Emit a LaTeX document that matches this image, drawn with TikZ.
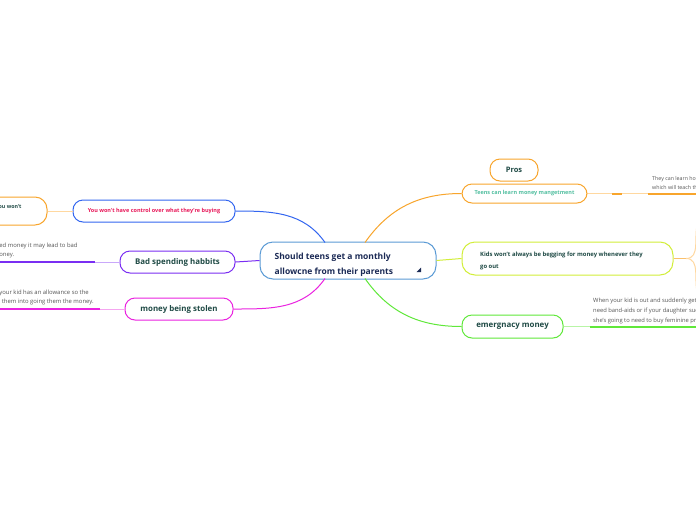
\documentclass[tikz,border=0pt]{standalone}
\usepackage{fontspec}
\setmainfont{Open Sans}
\definecolor{cborder}{HTML}{5B9BD5}
\definecolor{cnavy}{HTML}{1B2A55}
\definecolor{dkgreen}{HTML}{1F4A45}
\definecolor{orng}{HTML}{F8A52C}
\definecolor{lorng}{HTML}{FFD8A0}
\definecolor{blu}{HTML}{3366F0}
\definecolor{purp}{HTML}{7A2EF2}
\definecolor{lpurp}{HTML}{C9A8FA}
\definecolor{mag}{HTML}{EA22E0}
\definecolor{lmag}{HTML}{F5A6F0}
\definecolor{ygrn}{HTML}{D2EE3A}
\definecolor{grn}{HTML}{60E83A}
\definecolor{lgrn}{HTML}{B8F5A6}
\definecolor{redtxt}{HTML}{E8195A}
\definecolor{tealtxt}{HTML}{52BFA0}
\definecolor{graytxt}{HTML}{555555}
\tikzset{
  topic/.style={draw, line width=1pt, rounded corners=10pt, inner sep=0pt, fill=white, font=\bfseries},
  note/.style={inner sep=0pt, align=left, text=graytxt, font=\fontsize{5.3}{9}\selectfont},
  conn/.style={line width=1pt},
  thick line/.style={line width=2pt},
}
\begin{document}
\begin{tikzpicture}[x=1pt,y=-1pt]
\useasboundingbox (0,0) rectangle (696,520);
\clip (0,0) rectangle (696,520);
\fill[white] (0,0) rectangle (696,520);

% nodes
\node[topic, draw=cborder, minimum width=176pt, minimum height=37pt, rounded corners=13pt] (c) at (348,260.5) {};
\node[anchor=west, inner sep=0pt, text=cnavy, align=left,
      font=\bfseries\fontsize{8.5}{15}\selectfont] (ct) at (274.5,264.5)
      {Should teens get a monthly\\allowcne from their parents};
\fill[cnavy] (416.5,272) -- (421,272) -- (421,267.5) -- cycle;

\node[topic, draw=orng, minimum width=48pt, minimum height=22pt, text=dkgreen,
      font=\bfseries\fontsize{7.5}{9}\selectfont] (pros) at (514,170) {Pros};
\node[topic, draw=orng, minimum width=125pt, minimum height=19pt, text=tealtxt,
      font=\bfseries\fontsize{5.5}{7}\selectfont] (teens) at (524.5,193.5) {Teens can learn money mangetment};
\node[topic, draw=ygrn, minimum width=211pt, minimum height=33pt, rounded corners=13pt] (kids) at (567.5,258.5) {};
\node[anchor=west, inner sep=0pt, text=dkgreen, align=left,
      font=\bfseries\fontsize{5.9}{12}\selectfont] (kt) at (480,260.5)
      {Kids won't always be begging for money whenever they\\go out};
\node[topic, draw=grn, minimum width=101pt, minimum height=23pt, text=dkgreen,
      font=\bfseries\fontsize{7.9}{9}\selectfont] (emer) at (512.5,326.5) {emergnacy money};

\node[topic, draw=blu, minimum width=162pt, minimum height=22pt, text=redtxt,
      font=\bfseries\fontsize{5.5}{7}\selectfont] (yw) at (154,211) {You won't have control over what they're buying};
\node[topic, draw=orng, minimum width=67pt, minimum height=28pt, rounded corners=12pt] (lb) at (13.5,211) {};
\node[anchor=west, inner sep=0pt, text=dkgreen, font=\bfseries\fontsize{5.3}{7}\selectfont] (lbt) at (-1.5,207) {ou won't};
\node[topic, draw=purp, minimum width=115pt, minimum height=22pt, text=dkgreen,
      font=\bfseries\fontsize{7.9}{9}\selectfont] (bad) at (177.5,262) {Bad spending habbits};
\node[topic, draw=mag, minimum width=108pt, minimum height=22pt, text=dkgreen,
      font=\bfseries\fontsize{7.9}{9}\selectfont] (stol) at (179,309) {money being stolen};

% connectors from central topic
\coordinate (cnw) at (325,242.5);
\coordinate (cne) at (365,242.5);
\coordinate (csw) at (325,278.5);
\coordinate (cse) at (365,278.5);
\draw[conn, orng] (cne) to[out=55,in=180] (teens.west);
\draw[conn, grn] (cse) to[out=-55,in=180] (emer.west);
\draw[conn, blu] (cnw) to[out=125,in=0] (yw.east);
\draw[conn, mag] (csw) to[out=235,in=0] (stol.east);
\draw[conn, purp] (c.west) -- (bad.east);
\draw[conn, ygrn] (c.east) -- (kids.west);
\draw[conn, lorng] (yw.west) -- (lb.east);

% right side extensions
\coordinate (t1) at (612,193.5);
\coordinate (t2) at (622,193.5);
\coordinate (t3) at (648,193.5);
\coordinate (t4) at (700,193.5);
\draw[conn, lorng] (teens.east) -- (t1);
\draw[thick line, orng] (t1) -- (t2);
\draw[conn, lorng] (t2) -- (t3);
\draw[thick line, orng] (t3) -- (t4);
\node[note, anchor=south west] (tn) at (652,190) {They can learn how to manage\\which will teach them};

\coordinate (k1) at (686,258.5);
\coordinate (kup) at (698,222);
\coordinate (kdn) at (698,295);
\draw[conn, orng!70!white] (kids.east) -- (k1);
\draw[conn, lorng] (k1) to[out=0,in=250] (kup);
\draw[conn, lorng] (k1) to[out=0,in=110] (kdn);

\coordinate (e1) at (590,326.5);
\coordinate (e2) at (700,326.5);
\draw[conn, lgrn] (emer.east) -- (e1);
\draw[thick line, grn] (e1) -- (e2);
\node[note, anchor=south west, font=\fontsize{5.8}{10}\selectfont] (en) at (593,324)
  {When your kid is out and suddenly gets hurt\\need band-aids or if your daughter suddenly\\she's going to need to buy feminine products};

% left side extensions
\coordinate (b1) at (95,262);
\coordinate (b0) at (-5,262);
\draw[conn, lpurp] (bad.west) -- (b1);
\draw[thick line, purp] (b1) -- (b0);
\node[note, anchor=south west, font=\fontsize{5.9}{9.5}\selectfont] (bn) at (-0.8,258.5)
  {ed money it may lead to bad\\oney.};

\coordinate (s1) at (100,309);
\coordinate (s0) at (-5,309);
\draw[conn, lmag] (stol.west) -- (s1);
\draw[thick line, mag] (s1) -- (s0);
\node[note, anchor=south west, font=\fontsize{5.9}{9.5}\selectfont] (sn) at (-0.8,305.5)
  {your kid has an allowance so the\\\hspace*{2.5pt}them into going them the money.};
\end{tikzpicture}
\end{document}
